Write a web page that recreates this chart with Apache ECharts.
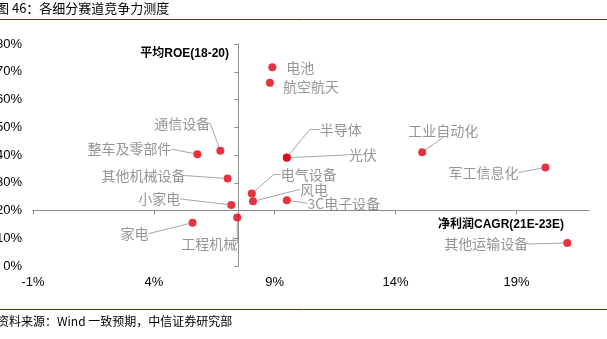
<!DOCTYPE html>
<html><head><meta charset="utf-8">
<script src="https://cdn.jsdelivr.net/npm/echarts@6/dist/echarts.min.js"></script>
<style>html,body{margin:0;padding:0;background:#fff}#c{width:607px;height:339px}</style>
</head><body><div id="c"></div>
<script>
// ---- data ----
const names = ['电池','航空航天','半导体','光伏','电气设备','风电','3C电子设备','工业自动化','军工信息化','其他运输设备','通信设备','整车及零部件','其他机械设备','小家电','工程机械','家电'];
const cagr  = [8.9, 8.8, 9.5, 9.5, 8.05, 8.1, 9.5, 15.1, 20.2, 21.1, 6.75, 5.8, 7.05, 7.2, 7.45, 5.6];   // 净利润CAGR(21E-23E), %
const roe   = [71.6, 66.0, 39.1, 39.0, 26.1, 23.3, 23.7, 41.0, 35.5, 8.3, 41.5, 40.3, 31.5, 22.0, 17.5, 15.6]; // 平均ROE(18-20), %
const xTicks = [-1, 4, 9, 14, 19];
const yTicks = [0, 10, 20, 30, 40, 50, 60, 70, 80];
const xRange = [-1, 22];
const yRange = [0, 80];
const xCross = 7.5;   // vertical axis crosses here
const yCross = 20;    // horizontal axis crosses here

// ---- label layout (offset of label centre from its point, px) ----
const labelOffsets = {
  '电池':[28,0], '航空航天':[41,4], '半导体':[54,-28], '光伏':[76,-3],
  '电气设备':[57,-19], '风电':[61,-12], '3C电子设备':[57,3], '工业自动化':[21,-22],
  '军工信息化':[-62,5], '其他运输设备':[-81,1], '通信设备':[-38,-27], '整车及零部件':[-68,-5],
  '其他机械设备':[-84,-3], '小家电':[-72,-6], '工程机械':[-28,26], '家电':[-58,11]
};
const noLine = ['电池','航空航天'];
const bend = {'半导体':10, '电气设备':7};

const W = 607, H = 339;
const grid = {left: 33, right: 18, top: 44, bottom: 73, containLabel: false, outerBoundsMode: 'none'};
const gw = W - grid.left - grid.right, gh = H - grid.top - grid.bottom;
const FONT = 'Liberation Sans, Arial, "Noto Sans CJK SC", sans-serif';
const axisColor = '#8c8c8c';

const data = names.map((n, i) => {
  const d = {name: n, value: [cagr[i], roe[i]]};
  d.labelLine = {show: !noLine.includes(n), length2: bend[n] || 0};
  return d;
});

const chart = echarts.init(document.getElementById('c'), null, {renderer: 'canvas'});
chart.setOption({
  animation: false,
  backgroundColor: '#fff',
  grid: grid,
  xAxis: [{
    type: 'value', min: xRange[0], max: xRange[1], interval: 5,
    axisLine: {show: false, onZero: false}, axisTick: {show: false}, splitLine: {show: false},
    axisLabel: {customValues: xTicks, formatter: v => v + '%', color: '#000', fontSize: 13, fontFamily: FONT, margin: 10}
  }, {
    type: 'value', min: xRange[0], max: xRange[1], interval: 5, position: 'bottom',
    offset: -(yCross - yRange[0]) / (yRange[1] - yRange[0]) * gh,
    axisLine: {show: true, onZero: false, lineStyle: {color: axisColor, width: 1}},
    axisTick: {show: true, customValues: xTicks, length: 4, lineStyle: {color: axisColor}},
    axisLabel: {show: false}, splitLine: {show: false}
  }],
  yAxis: [{
    type: 'value', min: yRange[0], max: yRange[1], interval: 10,
    axisLine: {show: false, onZero: false}, axisTick: {show: false}, splitLine: {show: false},
    axisLabel: {formatter: v => v + '%', color: '#000', fontSize: 13, fontFamily: FONT, margin: 11}
  }, {
    type: 'value', min: yRange[0], max: yRange[1], interval: 10, position: 'left',
    offset: -(xCross - xRange[0]) / (xRange[1] - xRange[0]) * gw,
    axisLine: {show: true, onZero: false, lineStyle: {color: axisColor, width: 1}},
    axisTick: {show: true, length: 4, lineStyle: {color: axisColor}},
    axisLabel: {show: false}, splitLine: {show: false}
  }],
  series: [{
    type: 'scatter', xAxisIndex: 0, yAxisIndex: 0,
    symbolSize: 8,
    itemStyle: {color: '#e0000f'},
    data: data,
    label: {show: true, position: 'inside', formatter: '{b}', color: '#7a7a7a', fontSize: 14,
            fontFamily: '"Noto Sans CJK SC", sans-serif', padding: [2, 4]},
    labelLine: {show: true, lineStyle: {color: '#a6a6a6', width: 1}},
    labelLayout: function (p) {
      const o = labelOffsets[names[p.dataIndex]] || [0, 0];
      return {dx: o[0], dy: o[1]};
    }
  }],
  graphic: [
    {type: 'text', left: -4, top: 2, style: {text: '图 46：各细分赛道竞争力测度', fill: '#000', font: '13px "Noto Sans CJK SC", sans-serif'}},
    {type: 'line', shape: {x1: 0, y1: 19.5, x2: W, y2: 19.5}, style: {stroke: '#c00000', lineWidth: 1}},
    {type: 'line', shape: {x1: 0, y1: 309.5, x2: W, y2: 309.5}, style: {stroke: '#c00000', lineWidth: 1}},
    {type: 'text', left: -3, top: 315, style: {text: '资料来源：Wind 一致预期，中信证券研究部', fill: '#000', font: '12px "Noto Sans CJK SC", sans-serif'}},
    {type: 'text', right: W - 229, top: 48, style: {text: '平均ROE(18-20)', fill: '#000', font: 'bold 12px Liberation Sans, "Noto Sans CJK SC", sans-serif'}},
    {type: 'text', right: W - 564, top: 219, style: {text: '净利润CAGR(21E-23E)', fill: '#000', font: 'bold 12px Liberation Sans, "Noto Sans CJK SC", sans-serif'}}
  ]
});
</script></body></html>
